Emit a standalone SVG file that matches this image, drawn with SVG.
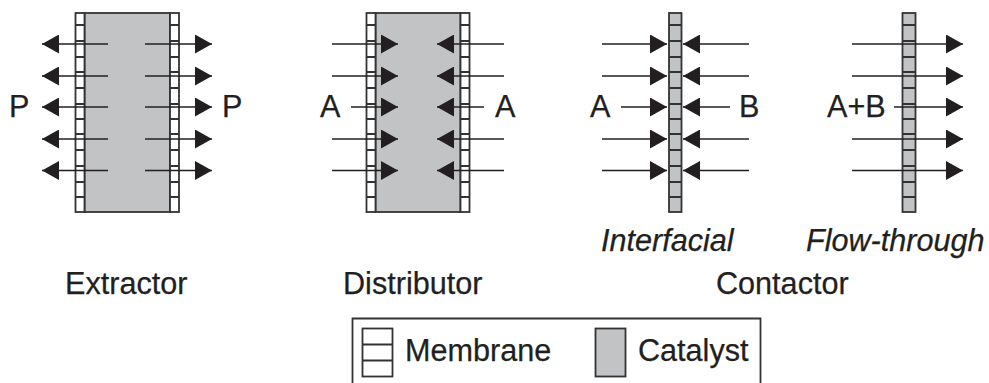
<svg xmlns="http://www.w3.org/2000/svg" width="989" height="383" viewBox="0 0 989 383">
<style>
.t{font-family:"Liberation Sans",Arial,sans-serif;font-size:30.6px;fill:#231f20;stroke:#231f20;stroke-width:.25}
.i{font-style:italic}
.m{fill:#fff;stroke:#333;stroke-width:1.8}
.g{fill:#c2c3c5;stroke:#333;stroke-width:1.8}
.d{fill:none;stroke:#333;stroke-width:1.8}
.a{stroke:#231f20;stroke-width:1.7;fill:none;marker-end:url(#h)}
</style>
<defs>
<marker id="h" markerUnits="userSpaceOnUse" viewBox="0 0 17 19" markerWidth="17" markerHeight="19" refX="17" refY="9.500" orient="auto"><path d="M0 0L17 9.500L0 19Z" fill="#231f20"/></marker>
</defs>
<rect width="989" height="383" fill="#fff"/>
<g id="extractor">
<rect class="g" x="84.5" y="13" width="85.5" height="199"/>
<rect class="m" x="75.5" y="13" width="9" height="199"/>
<rect class="m" x="170" y="13" width="9" height="199"/>
<path class="d" d="M75.500 25h9M75.500 41h9M75.500 57h9M75.500 72h9M75.500 88h9M75.500 104h9M75.500 119h9M75.500 134h9M75.500 150h9M75.500 166h9M75.500 182h9M75.500 197h9M170 25h9M170 41h9M170 57h9M170 72h9M170 88h9M170 104h9M170 119h9M170 134h9M170 150h9M170 166h9M170 182h9M170 197h9"/>
<text class="t" x="9" y="117">P</text>
<text class="t" x="222" y="117">P</text>
<text class="t" x="65" y="294">Extractor</text>
</g>
<g id="distributor">
<rect class="g" x="375.5" y="13" width="85" height="199"/>
<rect class="m" x="366.5" y="13" width="9" height="199"/>
<rect class="m" x="460.5" y="13" width="9" height="199"/>
<path class="d" d="M366.500 25h9M366.500 41h9M366.500 57h9M366.500 72h9M366.500 88h9M366.500 104h9M366.500 119h9M366.500 134h9M366.500 150h9M366.500 166h9M366.500 182h9M366.500 197h9M460.500 25h9M460.500 41h9M460.500 57h9M460.500 72h9M460.500 88h9M460.500 104h9M460.500 119h9M460.500 134h9M460.500 150h9M460.500 166h9M460.500 182h9M460.500 197h9"/>
<text class="t" x="320" y="117">A</text>
<text class="t" x="495" y="117">A</text>
<text class="t" x="343" y="294">Distributor</text>
</g>
<g id="interfacial">
<rect class="g" x="669" y="13" width="12.5" height="199"/>
<path class="d" d="M669 25h12.500M669 41h12.500M669 57h12.500M669 72h12.500M669 88h12.500M669 104h12.500M669 119h12.500M669 134h12.500M669 150h12.500M669 166h12.500M669 182h12.500M669 197h12.500"/>
<text class="t" x="590" y="117">A</text>
<text class="t" x="739" y="117">B</text>
<text class="t i" x="601" y="251">Interfacial</text>
</g>
<g id="flow-through">
<rect class="g" x="902.5" y="13" width="13" height="199"/>
<path class="d" d="M902.500 25h13M902.500 41h13M902.500 57h13M902.500 72h13M902.500 88h13M902.500 104h13M902.500 119h13M902.500 134h13M902.500 150h13M902.500 166h13M902.500 182h13M902.500 197h13"/>
<text class="t" x="827" y="117">A+B</text>
<text class="t i" x="806" y="251">Flow-through</text>
</g>
<text id="contactor-label" class="t" x="716" y="294">Contactor</text>
<g id="legend">
<path class="d" d="M352.500 383V318.500H760.500V383"/>
<rect class="m" x="362.5" y="328.5" width="30" height="48"/>
<path class="d" d="M362.500 344.500H392.500M362.500 360.500H392.500"/>
<text class="t" x="405" y="361">Membrane</text>
<rect class="g" x="595.5" y="328.5" width="30" height="48"/>
<text class="t" x="638" y="361">Catalyst</text>
</g>
<g id="connectors">
<path class="a" d="M108 44H42"/><path class="a" d="M108 76H42"/><path class="a" d="M108 107H42"/><path class="a" d="M108 139H42"/><path class="a" d="M108 170.500H42"/>
<path class="a" d="M145 44H212"/><path class="a" d="M145 76H212"/><path class="a" d="M145 107H212"/><path class="a" d="M145 139H212"/><path class="a" d="M145 170.500H212"/>
<path class="a" d="M332 44H398"/><path class="a" d="M332 76H398"/><path class="a" d="M351 107H398"/><path class="a" d="M332 139H398"/><path class="a" d="M332 170.500H398"/>
<path class="a" d="M504 44H437"/><path class="a" d="M504 76H437"/><path class="a" d="M484 107H437"/><path class="a" d="M504 139H437"/><path class="a" d="M504 170.500H437"/>
<path class="a" d="M602 44H667"/><path class="a" d="M602 76H667"/><path class="a" d="M621 107H667"/><path class="a" d="M602 139H667"/><path class="a" d="M602 170.500H667"/>
<path class="a" d="M749 44H683"/><path class="a" d="M749 76H683"/><path class="a" d="M730 107H683"/><path class="a" d="M749 139H683"/><path class="a" d="M749 170.500H683"/>
<path class="a" d="M852 44H963"/><path class="a" d="M852 76H963"/><path class="a" d="M894 107H963"/><path class="a" d="M852 139H963"/><path class="a" d="M852 170.500H963"/>
</g>
</svg>
